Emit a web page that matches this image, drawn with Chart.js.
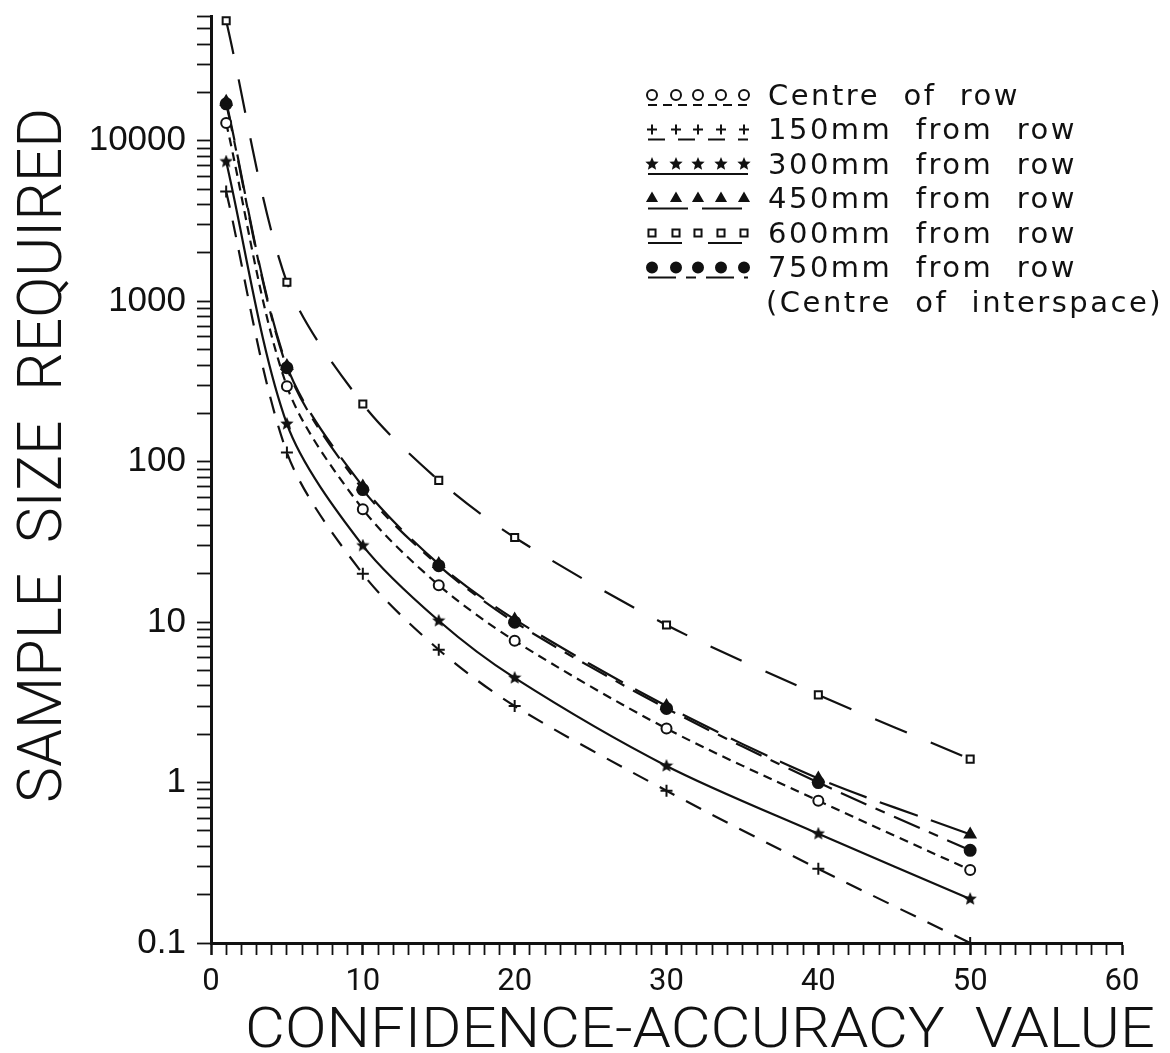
<!DOCTYPE html>
<html>
<head>
<meta charset="utf-8">
<title>Sample size required vs confidence-accuracy value</title>
<script src="https://cdn.jsdelivr.net/npm/chart.js@4.4.1/dist/chart.umd.min.js"></script>
<style>
  html, body { margin: 0; padding: 0; background: #fff; overflow: hidden; }
  #wrap { width: 1170px; height: 1053px; position: relative; }
</style>
</head>
<body>
<div id="wrap"><canvas id="chart"></canvas></div>
<script>
// confidence-accuracy value (x axis)
const caValues = [1, 5, 10, 15, 20, 30, 40, 50];

// sample size required
const centreOfRow = [12900, 295, 50.6, 17, 7.65, 2.17, 0.77, 0.285];
const from150mm = [4840, 114, 20, 6.73, 3.0, 0.89, 0.29, 0.1];
const from300mm = [7430, 172, 30, 10.2, 4.49, 1.27, 0.48, 0.188];
const from450mm = [17500, 395, 70, 23, 10.4, 3.0, 1.06, 0.475];
const from600mm = [56000, 1313, 229, 76.5, 33.7, 9.6, 3.52, 1.40];
const from750mm = [17000, 385, 67, 22.5, 10.0, 2.9, 1.0, 0.378];

const seriesLabels = ['Centre of row', '150mm from row', '300mm from row',
                      '450mm from row', '600mm from row', '750mm from row'];
const legendNote = '(Centre of interspace)';

const xTickLabels = [0, 10, 20, 30, 40, 50, 60];
const yTickLabels = [0.1, 1, 10, 100, 1000, 10000];

const xTitle = 'CONFIDENCE-ACCURACY  VALUE';
const yTitle = 'SAMPLE  SIZE  REQUIRED';

const INK = '#111';
const titleFont = 'Roboto, "Liberation Sans", sans-serif';

// filled five point star used as a marker
function starImage(size) {
  const c = document.createElement('canvas');
  c.width = size; c.height = size;
  const g = c.getContext('2d');
  const r = size / 2, ri = r * 0.45;
  g.beginPath();
  for (let i = 0; i < 10; i++) {
    const a = -Math.PI / 2 + i * Math.PI / 5;
    const rr = i % 2 ? ri : r;
    g.lineTo(r + rr * Math.cos(a), r + rr * Math.sin(a));
  }
  g.closePath();
  g.fillStyle = INK;
  g.fill();
  return c;
}
const star = starImage(14);

function series(label, values, pointStyle, dash, fill, radius) {
  return {
    label,
    data: values.map((v, i) => ({ x: caValues[i], y: v })),
    borderColor: INK,
    borderWidth: 2.2,
    borderDash: dash,
    pointStyle,
    pointRadius: radius,
    pointBorderWidth: 2,
    pointBackgroundColor: fill,
    pointBorderColor: INK,
    tension: 0.3,
    fill: false
  };
}

const datasets = [
  series(seriesLabels[0], centreOfRow, 'circle', [9, 6], '#fff', 5),
  series(seriesLabels[1], from150mm, 'cross', [17, 13], INK, 6),
  series(seriesLabels[2], from300mm, star, [], INK, 6),
  series(seriesLabels[3], from450mm, 'triangle', [40, 14], INK, 6),
  series(seriesLabels[4], from600mm, 'rect', [34, 26], '#fff', 5),
  series(seriesLabels[5], from750mm, 'circle', [28, 10, 10, 10], INK, 5.5)
];

// squeeze or stretch a line of text to a measured width
function fitText(ctx, text, x, y, width, size) {
  ctx.save();
  ctx.font = `300 ${size}px ${titleFont}`;
  ctx.textAlign = 'left';
  ctx.textBaseline = 'alphabetic';
  const w = ctx.measureText(text).width;
  ctx.translate(x, y);
  ctx.scale(width / w, 1);
  ctx.fillText(text, 0, 0);
  ctx.restore();
}

const paperText = {
  id: 'paperText',
  afterDraw(chart) {
    const ctx = chart.ctx;
    ctx.save();
    ctx.fillStyle = INK;

    fitText(ctx, xTitle, 245, 1047, 910, 56);

    ctx.save();
    ctx.translate(61, 803);
    ctx.rotate(-Math.PI / 2);
    fitText(ctx, yTitle, 0, 0, 695, 62);
    ctx.restore();

    // legend: five markers over a stroke of the line style, then the label
    const markX = [652, 676, 698, 721, 744];
    const rowY = 95, rowStep = 34.5;
    const textFont = '29px "DejaVu Sans", sans-serif';
    chart.data.datasets.forEach((ds, i) => {
      const y = rowY + i * rowStep;
      ctx.save();
      ctx.strokeStyle = INK;
      ctx.lineWidth = 2;
      ctx.setLineDash(ds.borderDash);
      ctx.beginPath();
      ctx.moveTo(648, y + 10);
      ctx.lineTo(748, y + 10);
      ctx.stroke();
      ctx.restore();

      markX.forEach(mx => {
        ctx.save();
        ctx.fillStyle = ds.pointBackgroundColor;
        ctx.strokeStyle = INK;
        ctx.lineWidth = 2;
        Chart.helpers.drawPoint(ctx, { pointStyle: ds.pointStyle, radius: 5, rotation: 0, borderWidth: 2 }, mx, y);
        ctx.restore();
      });

      ctx.save();
      ctx.fillStyle = INK;
      ctx.font = textFont;
      ctx.letterSpacing = '2.5px';
      ctx.textBaseline = 'middle';
      ctx.fillText(ds.label.replace(/ /g, '  '), 768, y + 2);
      ctx.restore();
    });
    ctx.save();
    ctx.fillStyle = INK;
    ctx.font = textFont;
    ctx.letterSpacing = '2.5px';
    ctx.textBaseline = 'middle';
    ctx.fillText(legendNote.replace(/ /g, '  '), 766, rowY + 6 * rowStep + 2);
    ctx.restore();

    ctx.restore();
  }
};

function isWhole(v) {
  const m = v / Math.pow(10, Math.floor(Math.log10(v) + 1e-9));
  return Math.abs(m - Math.round(m)) < 1e-6;
}

new Chart(document.getElementById('chart'), {
  type: 'line',
  data: { datasets },
  plugins: [paperText],
  options: {
    responsive: true,
    maintainAspectRatio: false,
    animation: false,
    events: [],
    layout: { padding: { left: 0, right: 48, top: 16, bottom: 0 } },
    plugins: { legend: { display: false }, tooltip: { enabled: false } },
    scales: {
      x: {
        type: 'linear',
        min: 0,
        max: 60,
        afterFit: s => { s.height = 110; s.paddingLeft = 0; s.paddingRight = 0; },
        border: { display: true, color: INK, width: 3 },
        grid: {
          drawOnChartArea: false,
          tickLength: 12,
          tickColor: INK,
          tickWidth: c => (c.tick && c.tick.value % 10 === 0 ? 2.5 : 1.8)
        },
        ticks: {
          stepSize: 1,
          maxTicksLimit: 1000,
          autoSkip: false,
          maxRotation: 0,
          padding: 9,
          color: INK,
          font: { family: titleFont, size: 31, weight: '400' },
          callback: v => (xTickLabels.includes(v) ? String(v) : '')
        }
      },
      y: {
        type: 'logarithmic',
        min: 0.1,
        max: 60000,
        afterBuildTicks: s => { s.ticks = s.ticks.filter(t => isWhole(t.value)); },
        afterFit: s => { s.width = 211; s.paddingTop = 0; s.paddingBottom = 0; },
        border: { display: true, color: INK, width: 3 },
        grid: {
          drawOnChartArea: false,
          tickLength: 14,
          tickColor: INK,
          tickWidth: 1.8
        },
        ticks: {
          autoSkip: false,
          padding: 11,
          color: INK,
          font: { family: '"Liberation Sans", Arial, sans-serif', size: 35, weight: 'normal' },
          callback: v => {
            const hit = yTickLabels.find(t => Math.abs(t - v) / t < 1e-6);
            return hit === undefined ? '' : String(hit);
          }
        }
      }
    }
  }
});
</script>
</body>
</html>
